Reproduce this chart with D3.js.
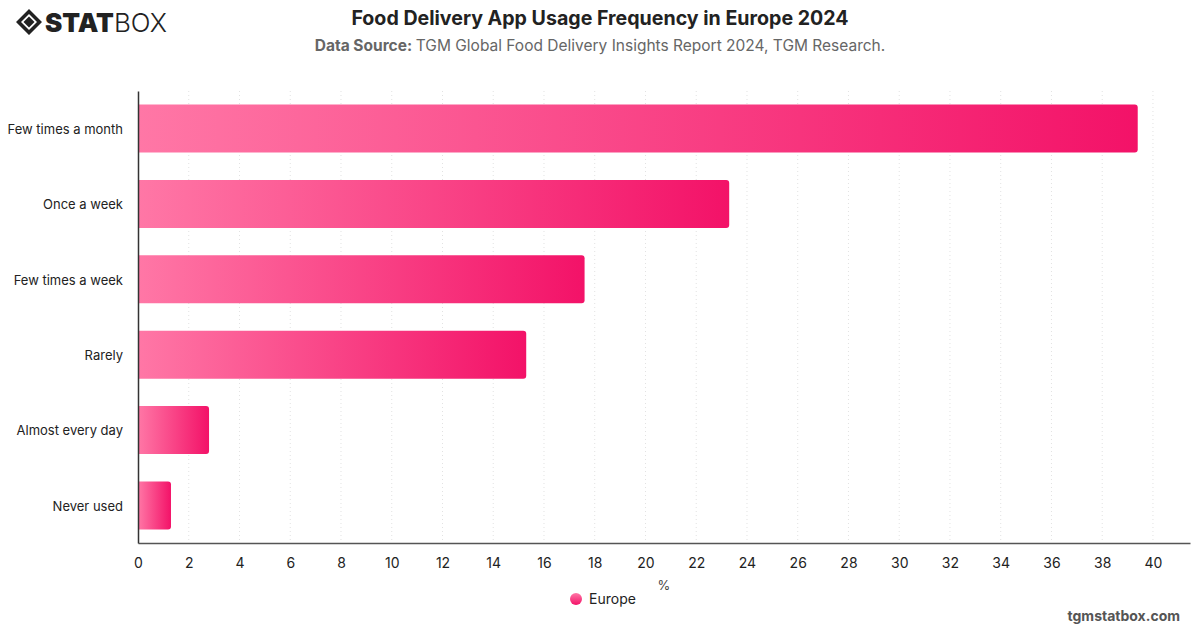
<!DOCTYPE html>
<html>
<head>
<meta charset="utf-8">
<script src="https://cdn.jsdelivr.net/npm/d3@7"></script>
<style>
  body { margin: 0; background: #fff; }
  text { font-family: Inter, "Noto Sans", sans-serif; }
</style>
</head>
<body>
<div class="chart"></div>
<script>
// Chart data
var categories = ["Few times a month", "Once a week", "Few times a week", "Rarely", "Almost every day", "Never used"];
var europeValues = [39.4, 23.3, 17.6, 15.3, 2.8, 1.3];
var xTicks = [0, 2, 4, 6, 8, 10, 12, 14, 16, 18, 20, 22, 24, 26, 28, 30, 32, 34, 36, 38, 40];
var seriesName = "Europe";

var svgWidth = 1200;
var svgHeight = 628;

var margin = { top: 91, right: 10, bottom: 85, left: 138 };
var width = svgWidth - margin.left - margin.right;
var height = svgHeight - margin.top - margin.bottom;

var svg = d3.select(".chart")
  .append("svg")
  .attr("width", svgWidth)
  .attr("height", svgHeight);

// bar gradient
var defs = svg.append("defs");
var grad = defs.append("linearGradient")
  .attr("id", "barGrad")
  .attr("x1", "0").attr("x2", "1").attr("y1", "0").attr("y2", "0");
grad.append("stop").attr("offset", "0%").attr("stop-color", "#ff77a6");
grad.append("stop").attr("offset", "100%").attr("stop-color", "#f31268");

var dotGrad = defs.append("linearGradient")
  .attr("id", "dotGrad")
  .attr("x1", "0").attr("x2", "0").attr("y1", "0").attr("y2", "1");
dotGrad.append("stop").attr("offset", "0%").attr("stop-color", "#ff77a6");
dotGrad.append("stop").attr("offset", "100%").attr("stop-color", "#f31268");

var chartGroup = svg.append("g")
  .attr("transform", `translate(${margin.left}, ${margin.top})`);

// Scales
var xScale = d3.scaleLinear()
  .domain([0, 41.46])
  .range([0, width]);

var yScale = d3.scaleBand()
  .domain(categories)
  .range([0, height])
  .paddingInner(0.363)
  .paddingOuter(0.18);

// Grid lines
chartGroup.append("g")
  .selectAll("line")
  .data(xTicks.slice(1))
  .enter()
  .append("line")
  .attr("x1", d => xScale(d))
  .attr("x2", d => xScale(d))
  .attr("y1", 0)
  .attr("y2", height)
  .attr("stroke", "#e2e2e2")
  .attr("stroke-dasharray", "1,3");

// Bars (rounded right corners)
function barPath(w, y, h, r) {
  r = Math.min(r, w);
  return `M0,${y} H${w - r} Q${w},${y} ${w},${y + r} V${y + h - r} Q${w},${y + h} ${w - r},${y + h} H0 Z`;
}

chartGroup.selectAll(".bar")
  .data(categories)
  .enter()
  .append("path")
  .attr("class", "bar")
  .attr("d", (d, i) => barPath(xScale(europeValues[i]), yScale(d), yScale.bandwidth(), 3))
  .attr("fill", "url(#barGrad)");

// Axes
var xAxis = d3.axisBottom(xScale).tickValues(xTicks).tickSize(0).tickPadding(15);
var yAxis = d3.axisLeft(yScale).tickSize(0).tickPadding(15);

var xg = chartGroup.append("g")
  .attr("transform", `translate(0, ${height})`)
  .call(xAxis);
xg.select(".domain").attr("stroke", "#555").attr("stroke-width", 1.5);
xg.selectAll("text").attr("font-size", 14).attr("fill", "#222").style("font-family", "Inter, sans-serif");

var yg = chartGroup.append("g")
  .call(yAxis);
yg.select(".domain").attr("stroke", "#333").attr("stroke-width", 1.5);
yg.selectAll("text").attr("font-size", 13).attr("fill", "#222").attr("dy", "0.4em").style("font-family", "Inter, sans-serif");

// Axis label
svg.append("text")
  .attr("x", 664)
  .attr("y", 590)
  .attr("text-anchor", "middle")
  .attr("font-size", 13)
  .attr("fill", "#444")
  .text("%");

// Legend
svg.append("circle")
  .attr("cx", 576)
  .attr("cy", 599)
  .attr("r", 6)
  .attr("fill", "url(#dotGrad)");
svg.append("text")
  .attr("x", 589)
  .attr("y", 604)
  .attr("font-size", 14)
  .attr("fill", "#222")
  .text(seriesName);

// Title
svg.append("text")
  .attr("x", 600)
  .attr("y", 25)
  .attr("text-anchor", "middle")
  .attr("font-size", 19.6)
  .attr("font-weight", "bold")
  .attr("fill", "#222")
  .text("Food Delivery App Usage Frequency in Europe 2024");

var sub = svg.append("text")
  .attr("x", 600)
  .attr("y", 51)
  .attr("text-anchor", "middle")
  .attr("font-size", 15.5)
  .attr("fill", "#666");
sub.append("tspan").attr("font-weight", "bold").text("Data Source: ");
sub.append("tspan").text("TGM Global Food Delivery Insights Report 2024, TGM Research.");

// Logo
var logo = svg.append("g").attr("transform", "translate(29, 22)");
logo.append("path")
  .attr("d", "M0,-13 L13,0 L0,13 L-13,0 Z M0,-8 L-8,0 L0,8 L8,0 Z")
  .attr("fill", "#222")
  .attr("fill-rule", "evenodd");
logo.append("path")
  .attr("d", "M0,-5.5 L5.5,0 L0,5.5 L-5.5,0 Z")
  .attr("fill", "#222");
var logoText = svg.append("text")
  .attr("x", 45)
  .attr("y", 32)
  .attr("font-size", 26)
  .attr("fill", "#222")
  .style("font-family", "Inter, sans-serif");
logoText.append("tspan").attr("font-weight", 900).text("STAT");
logoText.append("tspan").attr("font-weight", 300).text("BOX");

// Footer
svg.append("text")
  .attr("x", 1180)
  .attr("y", 621)
  .attr("text-anchor", "end")
  .attr("font-size", 14)
  .attr("font-weight", "bold")
  .attr("fill", "#555")
  .text("tgmstatbox.com");
</script>
</body>
</html>
